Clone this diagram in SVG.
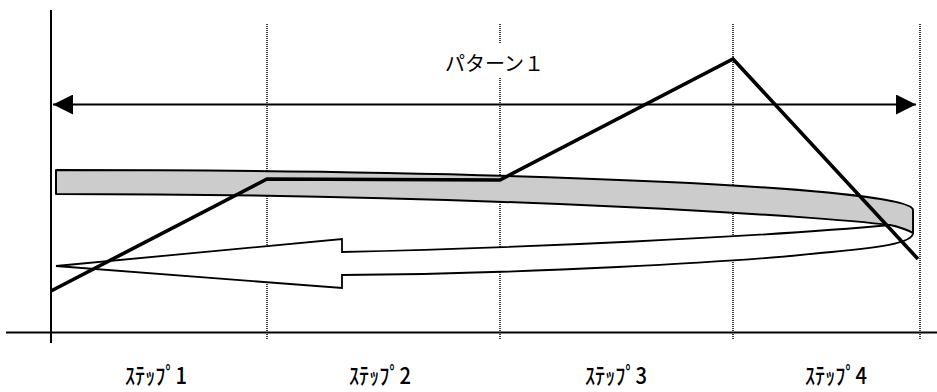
<svg xmlns="http://www.w3.org/2000/svg" width="937" height="392" viewBox="0 0 937 392">
<style>
.axis{stroke:#000;stroke-width:2;fill:none}
.grid{stroke:#000;stroke-width:1.5;stroke-dasharray:1 1;fill:none}
.band{fill:#cccccc;stroke:#000;stroke-width:2;stroke-linejoin:round}
.arrowband{fill:#fff;stroke:#000;stroke-width:1.8;stroke-linejoin:miter}
.bold{fill:none;stroke:#000;stroke-width:3.6;stroke-linejoin:miter}
.lbl{font-family:"Noto Sans CJK JP","Noto Sans",sans-serif;font-size:20px;fill:#000}
.step{font-family:"Noto Sans CJK JP","Noto Sans",sans-serif;font-size:23px;font-weight:500;fill:#000;text-anchor:middle}
</style>
<defs>
<marker id="ah" markerUnits="userSpaceOnUse" markerWidth="20" markerHeight="20" refX="20" refY="10" orient="auto-start-reverse">
<path d="M0,0 L20,10 L0,20 Z" fill="#000"/>
</marker>
</defs>
<g id="grid">
<line class="grid" x1="267" y1="24" x2="267" y2="340"/>
<line class="grid" x1="500" y1="24" x2="500" y2="44"/>
<line class="grid" x1="500" y1="78" x2="500" y2="340"/>
<line class="grid" x1="733" y1="24" x2="733" y2="340"/>
<line class="grid" x1="920" y1="24" x2="920" y2="340"/>
</g>
<g id="axes">
<line class="axis" x1="51" y1="10" x2="51" y2="343"/>
<line class="axis" x1="6" y1="332.5" x2="937" y2="332.5"/>
</g>
<g id="pattern">
<line class="axis" x1="53" y1="104.5" x2="916" y2="104.5" marker-start="url(#ah)" marker-end="url(#ah)"/>
<text class="lbl" x="445" y="71">パターン１</text>
</g>
<g id="band-back">
<path class="band" d="M56,170 C529,170 913,188 913,210 L913,233 Q908,230 895,226 C850,218 500,194 56,194 Z"/>
</g>
<g id="band-front">
<path class="arrowband" d="M56,266 L342,239 L342,252 C520,248 760,237 890,225 Q905,229 913,233 C913,243 880,248 820,253 C740,262 520,274 342,275 L342,288 Z"/>
</g>
<g id="connectors">
<polyline class="bold" points="51,291 267,179 500,180 733,59 918,259"/>
</g>
<g id="steps">
<text class="step" x="156" y="384" textLength="62" lengthAdjust="spacingAndGlyphs">ｽﾃｯﾌﾟ1</text>
<text class="step" x="380" y="384" textLength="62" lengthAdjust="spacingAndGlyphs">ｽﾃｯﾌﾟ2</text>
<text class="step" x="616" y="384" textLength="62" lengthAdjust="spacingAndGlyphs">ｽﾃｯﾌﾟ3</text>
<text class="step" x="836" y="384" textLength="62" lengthAdjust="spacingAndGlyphs">ｽﾃｯﾌﾟ4</text>
</g>
</svg>
